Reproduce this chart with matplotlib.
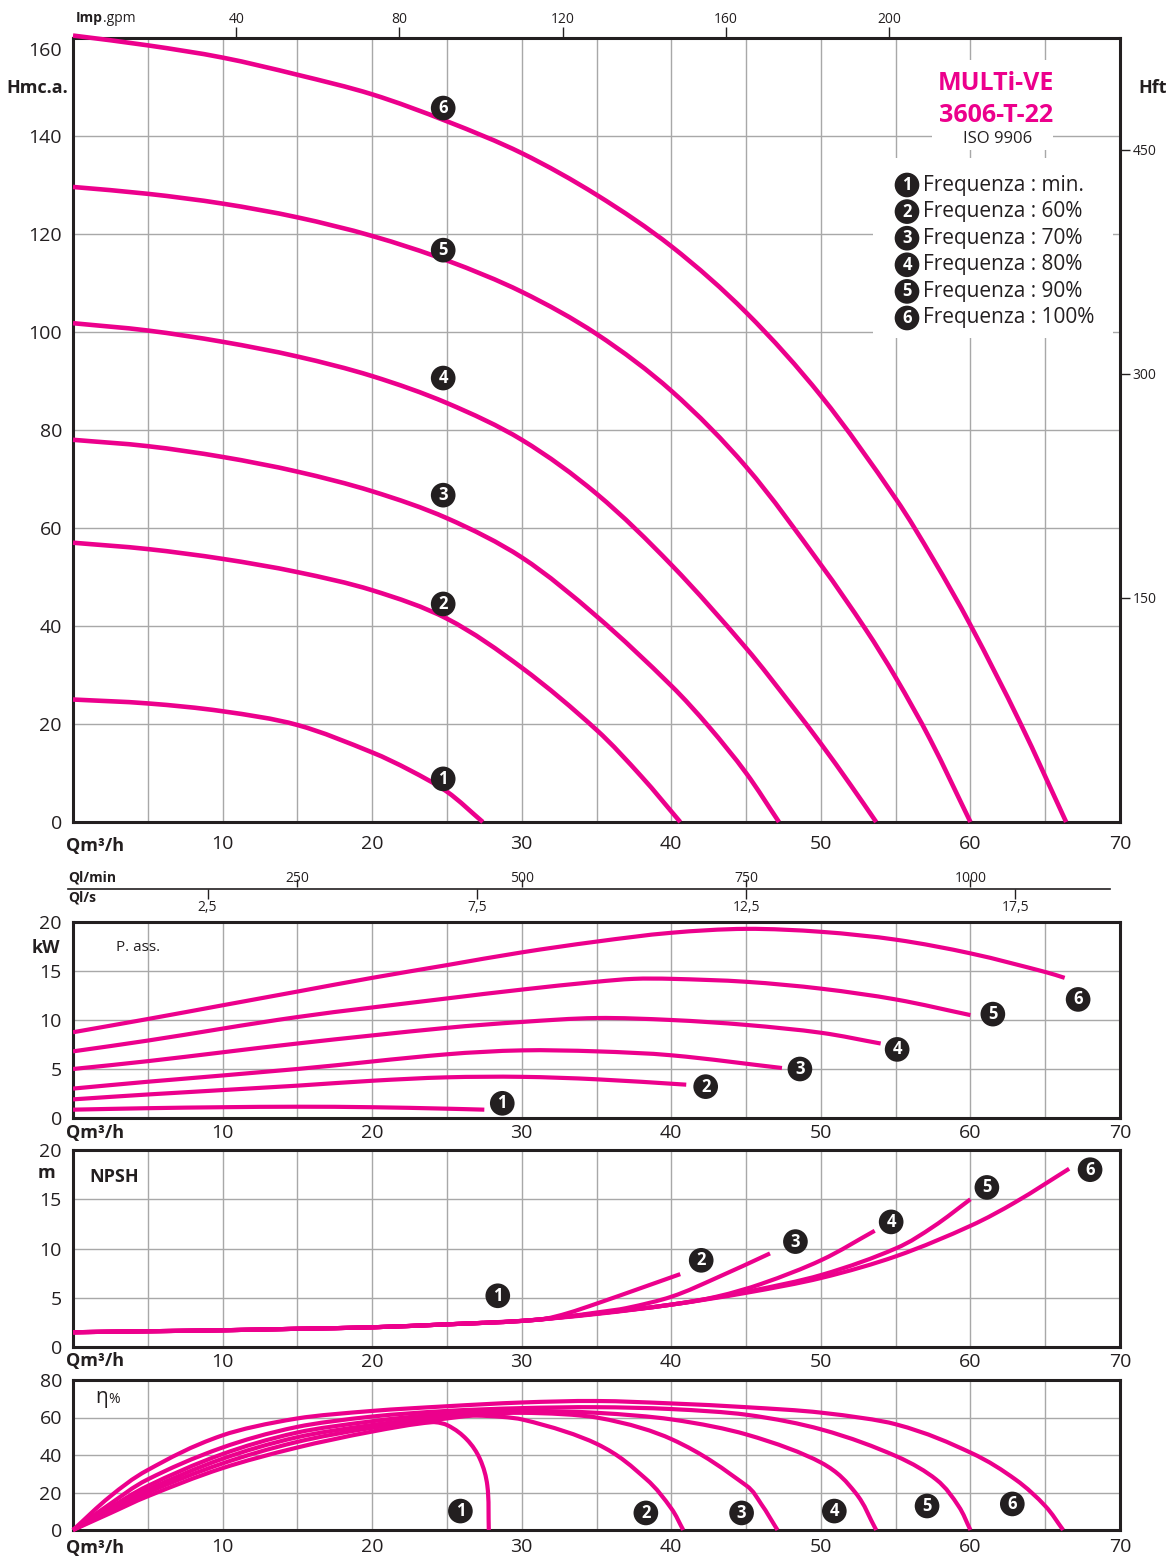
import numpy as np
import matplotlib
matplotlib.use("Agg")
import matplotlib.pyplot as plt
from matplotlib.patches import Rectangle, PathPatch
from matplotlib.path import Path

plt.rcParams["font.family"] = ["Open Sans", "DejaVu Sans"]

MAGENTA = "#EC008C"
INK = "#231F20"
GRID = "#A8A8A8"

speed_labels = ["min.", "60%", "70%", "80%", "90%", "100%"]

# Head curves: flow in m3/h, head in m
head_q = [
    [0, 5, 10, 15, 20, 22.5, 25, 27.4],
    [0, 5, 10, 15, 20, 25, 30, 35, 38, 40.6],
    [0, 5, 10, 15, 20, 25, 30, 35, 40, 42.5, 45, 47.2],
    [0, 5, 10, 15, 20, 25, 30, 35, 40, 45, 48, 50, 52, 53.7],
    [0, 5, 10, 15, 20, 25, 30, 35, 40, 45, 50, 53, 55, 57.3, 60],
    [0, 5, 10, 15, 20, 25, 30, 35, 40, 45, 50, 55, 57.5, 60, 63.3, 66.4],
]
head_h = [
    [25, 24.2, 22.6, 19.8, 14.2, 10.6, 6.2, 0],
    [57, 55.7, 53.7, 51, 47.3, 41.5, 31.5, 18.8, 9.3, 0],
    [78, 76.7, 74.5, 71.5, 67.5, 62, 54, 42, 27.8, 19.5, 10, 0],
    [101.8, 100.3, 98, 95, 91, 85.5, 78, 67, 52.5, 35.5, 24, 16, 7.5, 0],
    [129.6, 128.2, 126.2, 123.4, 119.6, 114.6, 108.2, 99.6, 88, 72.5, 52.5, 39.3, 29.5, 16.9, 0],
    [160.5, 158.5, 156, 152.5, 148.5, 143, 136.5, 128, 117.5, 104, 87, 66, 53.7, 40.2, 20.4, 0],
]

# Absorbed power, kW
power_q = [
    [0, 5, 10, 15, 20, 25, 27.5],
    [0, 5, 15, 20, 25, 30, 35, 41],
    [0, 5, 15, 25, 30, 35, 40, 47.4],
    [0, 5, 15, 25, 30, 35, 40, 45, 50, 54],
    [0, 5, 15, 25, 30, 35, 37.5, 40, 45, 50, 55, 60],
    [0, 5, 10, 15, 20, 25, 30, 35, 40, 45, 50, 55, 60, 65, 66.3],
]
power_kw = [
    [0.85, 1.0, 1.1, 1.15, 1.1, 0.95, 0.85],
    [1.9, 2.4, 3.3, 3.8, 4.15, 4.2, 3.95, 3.4],
    [3.0, 3.7, 5.0, 6.5, 6.9, 6.8, 6.4, 5.1],
    [5.0, 5.8, 7.6, 9.2, 9.8, 10.2, 10.0, 9.5, 8.7, 7.6],
    [6.8, 7.9, 10.3, 12.2, 13.1, 13.9, 14.2, 14.2, 13.9, 13.2, 12.1, 10.5],
    [8.75, 10.1, 11.5, 12.9, 14.3, 15.6, 16.9, 18.0, 18.9, 19.3, 19.0, 18.2, 16.8, 14.9, 14.3],
]

# NPSH required, m
npsh_q = [
    [0, 5, 10, 15, 20, 25, 27.4],
    [0, 5, 10, 15, 20, 25, 30, 31.5, 33, 35, 38, 40.6],
    [0, 5, 10, 15, 20, 25, 30, 33, 35, 37, 40, 43, 46.6],
    [0, 5, 10, 15, 20, 25, 30, 35, 40, 43, 46, 50, 53.6],
    [0, 5, 10, 15, 20, 25, 30, 35, 40, 45, 50, 55, 57.5, 60],
    [0, 5, 10, 15, 20, 25, 30, 35, 40, 45, 50, 55, 60, 63, 66.6],
]
npsh_m = [
    [1.5, 1.6, 1.7, 1.85, 2.0, 2.3, 2.45],
    [1.5, 1.6, 1.7, 1.85, 2.0, 2.3, 2.65, 2.85, 3.4, 4.4, 6.0, 7.4],
    [1.5, 1.6, 1.7, 1.85, 2.0, 2.3, 2.65, 3.1, 3.5, 3.95, 5.1, 7.0, 9.5],
    [1.5, 1.6, 1.7, 1.85, 2.0, 2.3, 2.65, 3.35, 4.3, 5.1, 6.4, 8.8, 11.8],
    [1.5, 1.6, 1.7, 1.85, 2.0, 2.3, 2.65, 3.4, 4.3, 5.6, 7.3, 10.0, 12.2, 15.0],
    [1.5, 1.6, 1.7, 1.85, 2.0, 2.3, 2.65, 3.4, 4.3, 5.5, 7.0, 9.2, 12.3, 14.7, 18.1],
]

# Pump efficiency, %
eff_q = [
    [0, 2.5, 5, 10, 15, 20, 24, 25, 26.3, 27.2, 27.7, 27.8],
    [0, 2.5, 5, 10, 15, 20, 25, 27, 30, 35, 38.3, 40, 40.8],
    [0, 2.5, 5, 10, 15, 20, 25, 30, 35, 40, 45, 46, 47.1],
    [0, 2.5, 5, 10, 15, 20, 25, 30, 35, 40, 45, 50, 52.3, 53.7],
    [0, 2.5, 5, 10, 15, 20, 25, 30, 35, 40, 45, 50, 55, 57.7, 59.2, 60],
    [0, 2.5, 5, 10, 15, 20, 25, 30, 35, 40, 45, 50, 55, 60, 63, 65, 66.2],
]
eff_pct = [
    [0, 9, 18, 33, 44, 52.5, 57.5, 56, 48.5, 38, 23.8, 0],
    [0, 10, 20, 35.5, 47, 54.5, 59.5, 61, 59, 46, 27.3, 11.5, 0],
    [0, 11, 21.5, 38, 49.5, 56, 60.5, 62.5, 60, 48.5, 23.8, 14, 0],
    [0, 12, 23.5, 40.5, 52, 58, 62, 63.5, 62.5, 59, 51, 36, 20, 0],
    [0, 14, 27, 44, 55, 60.5, 63.5, 65, 65.5, 64.5, 61.5, 53.7, 39.5, 27, 12.8, 0],
    [0, 18, 32, 50.5, 59.5, 63.5, 66, 68, 68.8, 67.5, 65.5, 62.6, 56.4, 41.3, 27, 12.8, 0],
]

W, H = 1176, 1558
fig = plt.figure(figsize=(W / 100, H / 100), dpi=100)


def rect(x0, x1, yt, yb):
    return [x0 / W, 1 - yb / H, (x1 - x0) / W, (yb - yt) / H]


def style(ax, ymax, ystep, xpad):
    ax.set_xlim(0, 70)
    ax.set_ylim(0, ymax)
    xt = np.arange(0, 71, 5)
    ax.set_xticks(xt)
    ax.set_xticklabels(["" if (v % 10 or v == 0) else str(v) for v in xt])
    ax.set_yticks(np.arange(0, ymax + 0.1, ystep))
    ax.tick_params(length=0, labelsize=14, colors=INK)
    ax.tick_params(axis="x", pad=xpad)
    ax.tick_params(axis="y", pad=8)
    ax.grid(True, color=GRID, lw=1.0)
    ax.set_axisbelow(True)
    for s in ax.spines.values():
        s.set_linewidth(2.2)
        s.set_color(INK)


def curve(ax, q, v, ymax, lw, clip=True):
    """Smooth cubic curve passing through every (q, v) point."""
    p = np.column_stack([q, v]).astype(float)
    pn = p / np.array([70.0, ymax])
    t = np.concatenate([[0.0], np.cumsum(np.linalg.norm(np.diff(pn, axis=0), axis=1))])
    n = len(p)
    m = np.zeros_like(p)
    m[0] = (p[1] - p[0]) / (t[1] - t[0])
    m[-1] = (p[-1] - p[-2]) / (t[-1] - t[-2])
    for i in range(1, n - 1):
        m[i] = (p[i + 1] - p[i - 1]) / (t[i + 1] - t[i - 1])
    verts = [p[0]]
    codes = [Path.MOVETO]
    for i in range(n - 1):
        h = t[i + 1] - t[i]
        verts += [p[i] + m[i] * h / 3, p[i + 1] - m[i + 1] * h / 3, p[i + 1]]
        codes += [Path.CURVE4] * 3
    patch = PathPatch(Path(verts, codes), fc="none", ec=MAGENTA, lw=lw,
                      capstyle="butt", joinstyle="round", zorder=3,
                      clip_on=clip)
    ax.add_patch(patch)


def badge(ax, x, y, n, size=12, transform=None):
    kw = dict(color="white", fontsize=size, fontweight="bold", ha="center",
              va="center", zorder=6,
              bbox=dict(boxstyle="circle,pad=0.2", fc=INK, ec="none"))
    if transform is not None:
        kw["transform"] = transform
    ax.text(x, y, str(n), **kw)


def qlabel(ypx):
    fig.text(66 / W, 1 - ypx / H, "Qm³/h", fontsize=13, fontweight="bold",
             color=INK, ha="left", va="center")


# ---------------- Head ----------------
ax_h = fig.add_axes(rect(73, 1120, 38, 822))
style(ax_h, 160, 20, 9)
labels = [str(v) for v in range(0, 161, 20)]
labels[-1] = ""
ax_h.set_yticklabels(labels)
ax_h.annotate("160", xy=(0, 160), xytext=(-8, -9), textcoords="offset points",
              ha="right", va="center", fontsize=14, color=INK)
for q, h in zip(head_q, head_h):
    curve(ax_h, q, h, 160, 3.3, clip=False)
for n, yv in zip(range(1, 7), [8.8, 44.5, 66.7, 90.6, 116.7, 145.7]):
    badge(ax_h, 24.75, yv, n)

# white panels behind title and legend
ax_h.add_patch(Rectangle((0.820, 0.857), 0.116, 0.115, transform=ax_h.transAxes,
                         fc="white", ec="none", zorder=1))
ax_h.add_patch(Rectangle((0.764, 0.617), 0.229, 0.230, transform=ax_h.transAxes,
                         fc="white", ec="none", zorder=1))

# feet scale on the right
ax_ft = ax_h.twinx()
ax_ft.set_ylim(0, 160 / 0.3048)
ax_ft.set_yticks([150, 300, 450])
ax_ft.tick_params(direction="out", length=7, width=1, labelsize=10,
                  colors=INK, pad=2)
for s in ax_ft.spines.values():
    s.set_visible(False)

# Imperial gpm scale on top
sec = ax_h.secondary_xaxis("top", functions=(lambda q: q * 3.6662,
                                             lambda g: g / 3.6662))
sec.set_xticks([40, 80, 120, 160, 200])
sec.tick_params(direction="out", length=8, width=1, labelsize=10,
                colors=INK, pad=0)
sec.spines["top"].set_visible(False)

t_imp = fig.text(76 / W, 1 - 18 / H, "Imp", fontsize=10, fontweight="bold",
                 color=INK, ha="left", va="center")
ax_h.annotate(".gpm", xy=(1, 0.5), xycoords=t_imp, va="center", ha="left",
              fontsize=10, color=INK)

fig.text(68 / W, 1 - 88 / H, "Hmc.a.", fontsize=13, fontweight="bold",
         color=INK, ha="right", va="center")
fig.text(1138 / W, 1 - 88 / H, "Hft", fontsize=13, fontweight="bold",
         color=INK, ha="left", va="center")
qlabel(846)

# title and legend
fig.text(996 / W, 1 - 83 / H, "MULTi-VE", fontsize=18, fontweight="bold",
         color=MAGENTA, ha="center", va="center")
fig.text(996 / W, 1 - 115 / H, "3606-T-22", fontsize=18, fontweight="bold",
         color=MAGENTA, ha="center", va="center")
fig.text(998 / W, 1 - 139 / H, "ISO 9906", fontsize=12, color=INK,
         ha="center", va="center")
for i, lab in enumerate(speed_labels):
    ypx = 185 + i * 26.6
    badge(fig, 907 / W, 1 - ypx / H, i + 1, size=12, transform=fig.transFigure)
    fig.text(923 / W, 1 - ypx / H, "Frequenza : " + lab, fontsize=15,
             color=INK, ha="left", va="center")

# ---------------- flow scales l/min and l/s ----------------
ax_q = fig.add_axes(rect(73, 1120, 887.5, 888.5))
ax_q.set_xlim(0, 70)
ax_q.set_ylim(0, 1)
ax_q.set_yticks([])
ax_q.set_xticks([])
ax_q.patch.set_alpha(0)
for k in ("top", "left", "right"):
    ax_q.spines[k].set_visible(False)
ax_q.spines["bottom"].set_linewidth(1.2)
ax_q.spines["bottom"].set_color(INK)
ax_q.spines["bottom"].set_bounds(-0.35, 69.3)
s_min = ax_q.secondary_xaxis("top", functions=(lambda q: q * 1000 / 60,
                                               lambda l: l * 60 / 1000))
s_min.set_xticks([250, 500, 750, 1000])
s_min.tick_params(direction="out", length=6, width=1, labelsize=10,
                  colors=INK, pad=-5)
s_min.spines["top"].set_visible(False)
s_sec = ax_q.secondary_xaxis("bottom", functions=(lambda q: q / 3.6,
                                                  lambda l: l * 3.6))
s_sec.set_xticks([2.5, 7.5, 12.5, 17.5])
s_sec.set_xticklabels(["2,5", "7,5", "12,5", "17,5"])
s_sec.tick_params(direction="out", length=7, width=1, labelsize=10,
                  colors=INK, pad=1)
s_sec.spines["bottom"].set_visible(False)
fig.text(68 / W, 1 - 877 / H, "Ql/min", fontsize=10, fontweight="bold",
         color=INK, ha="left", va="center")
fig.text(68 / W, 1 - 898 / H, "Ql/s", fontsize=10, fontweight="bold",
         color=INK, ha="left", va="center")

# ---------------- Power ----------------
ax_p = fig.add_axes(rect(73, 1120, 922, 1118))
style(ax_p, 20, 5, 4)
for q, p in zip(power_q, power_kw):
    curve(ax_p, q, p, 20, 3.0)
for n, (xq, yv) in enumerate([(28.7, 1.5), (42.3, 3.2), (48.6, 5.0),
                              (55.1, 7.0), (61.5, 10.6), (67.2, 12.1)], 1):
    badge(ax_p, xq, yv, n)
ax_p.text(2.9, 17.35, "P. ass.", fontsize=11, color=INK, va="center")
fig.text(60 / W, 1 - 948 / H, "kW", fontsize=13, fontweight="bold",
         color=INK, ha="right", va="center")
qlabel(1133)

# ---------------- NPSH ----------------
ax_n = fig.add_axes(rect(73, 1120, 1150, 1347))
style(ax_n, 20, 5, 4)
for q, m in zip(npsh_q, npsh_m):
    curve(ax_n, q, m, 20, 3.0)
for n, (xq, yv) in enumerate([(28.4, 5.2), (42.0, 8.8), (48.3, 10.7),
                              (54.7, 12.7), (61.1, 16.2), (68.0, 18.0)], 1):
    badge(ax_n, xq, yv, n)
ax_n.text(1.07, 17.3, "NPSH", fontsize=13, fontweight="bold", color=INK,
          va="center")
fig.text(55 / W, 1 - 1173 / H, "m", fontsize=13, fontweight="bold",
         color=INK, ha="right", va="center")
qlabel(1361)

# ---------------- Efficiency ----------------
ax_e = fig.add_axes(rect(73, 1120, 1380, 1530))
style(ax_e, 80, 20, 6)
for q, e in zip(eff_q, eff_pct):
    curve(ax_e, q, e, 80, 3.0, clip=False)
for n, (xq, yv) in enumerate([(25.9, 10.1), (38.3, 9.1), (44.7, 9.1),
                              (50.9, 10.1), (57.1, 12.8), (62.8, 13.9)], 1):
    badge(ax_e, xq, yv, n)
t_eta = ax_e.text(1.5, 70.4, "η", fontsize=15, color=INK, va="center")
ax_e.annotate("%", xy=(1, 0.45), xycoords=t_eta, fontsize=10, color=INK,
              va="center", ha="left")
qlabel(1548)

fig.savefig("out.png", dpi=100)
